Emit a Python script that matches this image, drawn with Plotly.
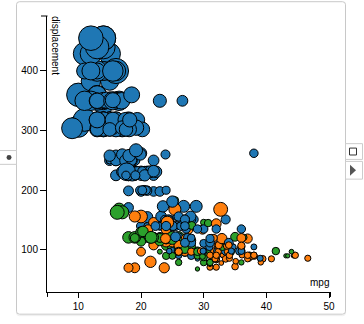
import plotly.graph_objects as go

# auto-mpg cars (rows with missing horsepower omitted), in data order
mpg = [
    18, 15, 18, 16, 17, 15, 14, 14, 14, 15, 15, 14, 15, 14, 24, 22, 18, 21, 27, 26, 25, 24, 25, 26, 21, 10, 10, 11, 9,
    27, 28, 25, 19, 16, 17, 19, 18, 14, 14, 14, 14, 12, 13, 13, 18, 22, 19, 18, 23, 28, 30, 30, 31, 35, 27, 26, 24, 25, 23, 20, 21,
    13, 14, 15, 14, 17, 11, 13, 12, 13, 19, 15, 13, 13, 14, 18, 22, 21, 26, 22, 28, 23, 28, 27,
    13, 14, 13, 14, 15, 12, 13, 13, 14, 13, 12, 13, 18, 16, 18, 18, 23, 26, 11, 12, 13, 12, 18, 20, 21, 22, 18, 19, 21, 26, 15, 16, 29, 24, 20, 19, 15, 24, 20, 11,
    20, 19, 15, 31, 26, 32, 25, 16, 16, 18, 16, 13, 14, 14, 14, 29, 26, 26, 31, 32, 28, 24, 26, 24, 26, 31,
    19, 18, 15, 15, 16, 15, 16, 14, 17, 16, 15, 18, 21, 20, 13, 29, 23, 20, 23, 24, 25, 24, 18, 29, 19, 23, 23, 22, 25, 33,
    28, 25, 25, 26, 27, 17.5, 16, 15.5, 14.5, 22, 22, 24, 22.5, 29, 24.5, 29, 33, 20, 18, 18.5, 17.5, 29.5, 32, 28, 26.5, 20, 13, 19, 19, 16.5, 16.5, 13, 13, 13,
    31.5, 30, 36, 25.5, 33.5, 17.5, 17, 15.5, 15, 17.5, 20.5, 19, 18.5, 16, 15.5, 15.5, 16, 29, 24.5, 26, 25.5, 30.5, 33.5, 30, 30.5, 22, 21.5, 21.5,
    43.1, 36.1, 32.8, 39.4, 36.1, 19.9, 19.4, 20.2, 19.2, 20.5, 20.2, 25.1, 20.5, 19.4, 20.6, 20.8, 18.6, 18.1, 19.2, 17.7, 18.1, 17.5, 30, 27.5, 27.2, 30.9, 21.1, 23.2, 23.8, 23.9, 20.3, 17, 21.6, 16.2, 31.5, 29.5,
    21.5, 19.8, 22.3, 20.2, 20.6, 17, 17.6, 16.5, 18.2, 16.9, 15.5, 19.2, 18.5, 31.9, 34.1, 35.7, 27.4, 25.4, 23, 27.2, 23.9, 34.2, 34.5, 31.8, 37.3, 28.4, 28.8, 26.8, 33.5,
    41.5, 38.1, 32.1, 37.2, 28, 26.4, 24.3, 19.1, 34.3, 29.8, 31.3, 37, 32.2, 46.6, 27.9, 40.8, 44.3, 43.4, 36.4, 30, 44.6, 33.8, 29.8, 32.7, 23.7, 35, 32.4,
    27.2, 26.6, 25.8, 23.5, 30, 39.1, 39, 35.1, 32.3, 37, 37.7, 34.1, 34.7, 34.4, 29.9, 33, 33.7, 32.4, 32.9, 31.6, 28.1, 30.7, 25.4, 24.2, 22.4, 26.6, 20.2, 17.6,
    28, 27, 34, 31, 29, 27, 24, 36, 37, 31, 38, 36, 36, 36, 34, 38, 32, 38, 25, 38, 26, 22, 32, 36, 27, 27, 44, 32, 28, 31,
]
displacement = [
    307, 350, 318, 304, 302, 429, 454, 440, 455, 390, 383, 340, 400, 455, 113, 198, 199, 200, 97, 97, 110, 107, 104, 121, 199, 360, 307, 318, 304,
    97, 140, 113, 232, 225, 250, 250, 232, 350, 400, 351, 318, 383, 400, 400, 258, 140, 250, 250, 122, 116, 79, 88, 71, 72, 97, 91, 113, 97.5, 97, 140, 122,
    350, 400, 318, 351, 304, 429, 350, 350, 400, 70, 304, 307, 302, 318, 121, 121, 120, 96, 122, 97, 120, 98, 97,
    350, 304, 350, 302, 318, 429, 400, 351, 318, 440, 455, 360, 225, 250, 232, 250, 198, 97, 400, 400, 360, 350, 232, 97, 140, 108, 70, 122, 155, 98, 350, 400, 68, 116, 114, 121, 318, 121, 156, 350,
    198, 232, 250, 79, 122, 71, 140, 250, 258, 225, 302, 350, 318, 302, 304, 98, 79, 97, 76, 83, 90, 90, 116, 120, 108, 79,
    225, 250, 250, 250, 400, 350, 318, 351, 231, 250, 258, 225, 231, 262, 302, 97, 140, 232, 140, 134, 90, 119, 171, 90, 232, 115, 120, 121, 121, 91,
    107, 116, 140, 98, 101, 305, 318, 304, 351, 225, 250, 200, 232, 85, 98, 90, 91, 225, 250, 250, 258, 97, 85, 97, 140, 130, 318, 120, 156, 168, 350, 350, 302, 318,
    98, 111, 79, 122, 85, 305, 260, 318, 302, 250, 231, 225, 250, 400, 350, 400, 351, 97, 151, 97, 140, 98, 98, 97, 97, 146, 121, 80,
    90, 98, 78, 85, 91, 260, 318, 302, 231, 200, 200, 140, 225, 232, 231, 200, 225, 258, 305, 231, 302, 318, 98, 134, 119, 105, 134, 156, 151, 119, 131, 163, 121, 163, 89, 98,
    231, 200, 140, 232, 225, 305, 302, 351, 318, 350, 351, 267, 360, 89, 86, 98, 121, 183, 350, 141, 260, 105, 105, 85, 91, 151, 173, 173, 151,
    98, 89, 98, 86, 151, 140, 151, 225, 97, 134, 120, 119, 108, 86, 156, 85, 90, 90, 121, 146, 91, 97, 89, 168, 70, 122, 107,
    135, 151, 156, 173, 135, 79, 86, 81, 97, 85, 89, 91, 105, 98, 98, 105, 107, 108, 119, 120, 141, 145, 168, 146, 231, 350, 200, 225,
    112, 112, 112, 112, 135, 151, 140, 105, 91, 91, 105, 98, 120, 107, 108, 91, 91, 91, 181, 262, 156, 232, 144, 135, 151, 140, 97, 135, 120, 119,
]
horsepower = [
    130, 165, 150, 150, 140, 198, 220, 215, 225, 190, 170, 160, 150, 225, 95, 95, 97, 85, 88, 46, 87, 90, 95, 113, 90, 215, 200, 210, 193,
    88, 90, 95, 100, 105, 100, 88, 100, 165, 175, 153, 150, 180, 170, 175, 110, 72, 100, 88, 86, 90, 70, 76, 65, 69, 60, 70, 95, 80, 54, 90, 86,
    165, 175, 150, 153, 150, 208, 155, 160, 190, 97, 150, 130, 140, 150, 112, 76, 87, 69, 86, 92, 97, 80, 88,
    175, 150, 145, 137, 150, 198, 150, 158, 150, 215, 225, 175, 105, 100, 100, 88, 95, 46, 150, 167, 170, 180, 100, 88, 72, 94, 90, 85, 107, 90, 145, 230, 49, 75, 91, 112, 150, 110, 122, 180,
    95, 100, 100, 67, 80, 65, 75, 100, 110, 105, 140, 150, 150, 140, 150, 83, 67, 78, 52, 61, 75, 75, 75, 97, 93, 67,
    95, 105, 72, 72, 170, 145, 150, 148, 110, 105, 110, 95, 110, 110, 129, 75, 83, 100, 78, 96, 71, 97, 97, 70, 90, 95, 88, 98, 115, 53,
    86, 81, 92, 79, 83, 140, 150, 120, 152, 100, 105, 81, 90, 52, 60, 70, 53, 100, 78, 110, 95, 71, 70, 75, 72, 102, 150, 88, 108, 120, 180, 145, 130, 150,
    68, 80, 58, 96, 70, 145, 110, 145, 130, 110, 105, 100, 98, 180, 170, 190, 149, 78, 88, 75, 89, 63, 83, 67, 78, 97, 110, 110,
    48, 66, 52, 70, 60, 110, 140, 139, 105, 95, 85, 88, 100, 90, 105, 85, 110, 120, 145, 165, 139, 140, 68, 95, 97, 75, 95, 105, 85, 97, 103, 125, 115, 133, 71, 68,
    115, 85, 88, 90, 110, 130, 129, 138, 135, 155, 142, 125, 150, 71, 65, 80, 80, 77, 125, 71, 90, 70, 70, 65, 69, 90, 115, 115, 90,
    76, 60, 70, 65, 90, 88, 90, 90, 78, 90, 75, 92, 75, 65, 105, 65, 48, 48, 67, 67, 67, 67, 62, 132, 100, 88, 72,
    84, 84, 92, 110, 84, 58, 64, 60, 67, 65, 62, 68, 63, 65, 65, 74, 75, 75, 100, 74, 80, 76, 116, 120, 110, 105, 88, 85,
    88, 88, 88, 85, 84, 90, 92, 74, 68, 68, 63, 70, 88, 75, 70, 67, 67, 67, 110, 85, 92, 112, 96, 84, 90, 86, 52, 84, 79, 82,
]
origin = [
    "USA", "USA", "USA", "USA", "USA", "USA", "USA", "USA", "USA", "USA", "USA", "USA", "USA", "USA", "Japan", "USA", "USA", "USA", "Japan", "Europe", "Europe", "Europe", "Europe", "Europe", "USA", "USA", "USA", "USA", "USA",
    "Japan", "USA", "Japan", "USA", "USA", "USA", "USA", "USA", "USA", "USA", "USA", "USA", "USA", "USA", "USA", "USA", "USA", "USA", "USA", "USA", "Europe", "Europe", "Europe", "Japan", "Japan", "Europe", "USA", "Japan", "USA", "Europe", "USA", "USA",
    "USA", "USA", "USA", "USA", "USA", "USA", "USA", "USA", "USA", "Japan", "USA", "USA", "USA", "USA", "Europe", "Europe", "Europe", "Europe", "USA", "Japan", "Japan", "USA", "Japan",
    "USA", "USA", "USA", "USA", "USA", "USA", "USA", "USA", "USA", "USA", "USA", "USA", "USA", "USA", "USA", "USA", "USA", "Europe", "USA", "USA", "USA", "USA", "USA", "Japan", "USA", "Japan", "Japan", "USA", "USA", "Europe", "USA", "USA", "Europe", "Europe", "Europe", "Europe", "USA", "Europe", "Japan", "USA",
    "USA", "USA", "USA", "Japan", "USA", "Japan", "USA", "USA", "USA", "USA", "USA", "USA", "USA", "USA", "USA", "Europe", "Europe", "Europe", "Japan", "Japan", "USA", "Europe", "Europe", "Japan", "Japan", "Europe",
    "USA", "USA", "USA", "USA", "USA", "USA", "USA", "USA", "USA", "USA", "USA", "USA", "USA", "USA", "USA", "Japan", "USA", "USA", "USA", "Japan", "Europe", "Japan", "USA", "Europe", "USA", "Europe", "Europe", "Europe", "Europe", "Japan",
    "Europe", "Europe", "USA", "USA", "Europe", "USA", "USA", "USA", "USA", "USA", "USA", "USA", "USA", "USA", "USA", "Europe", "Japan", "USA", "USA", "USA", "USA", "Europe", "Japan", "Japan", "USA", "Europe", "USA", "Europe", "Japan", "Europe", "USA", "USA", "USA", "USA",
    "Japan", "USA", "Europe", "USA", "Japan", "USA", "USA", "USA", "USA", "USA", "USA", "USA", "USA", "USA", "USA", "USA", "USA", "Europe", "USA", "Japan", "USA", "USA", "USA", "Japan", "Europe", "Japan", "Europe", "Japan",
    "Europe", "USA", "Japan", "Japan", "Japan", "USA", "USA", "USA", "USA", "USA", "USA", "USA", "USA", "USA", "USA", "USA", "USA", "USA", "USA", "USA", "USA", "USA", "USA", "Japan", "Japan", "USA", "Japan", "USA", "USA", "Japan", "Europe", "Europe", "Europe", "Europe", "Europe", "Japan",
    "USA", "USA", "USA", "USA", "USA", "USA", "USA", "USA", "USA", "USA", "USA", "USA", "USA", "Europe", "Japan", "USA", "USA", "Europe", "USA", "Europe", "USA", "USA", "USA", "Japan", "Europe", "USA", "USA", "USA", "USA",
    "Europe", "Japan", "USA", "Japan", "USA", "USA", "USA", "USA", "Europe", "Japan", "Japan", "Japan", "Japan", "Japan", "USA", "Japan", "Europe", "Europe", "Europe", "Europe", "Japan", "Japan", "Europe", "Japan", "Japan", "Europe", "Japan",
    "USA", "USA", "USA", "USA", "USA", "Japan", "USA", "Japan", "Japan", "Japan", "Japan", "Japan", "USA", "USA", "USA", "Europe", "Japan", "Japan", "Japan", "Japan", "Europe", "Europe", "Japan", "Japan", "USA", "USA", "USA", "USA",
    "USA", "USA", "USA", "USA", "USA", "USA", "USA", "Europe", "Japan", "Japan", "USA", "USA", "Japan", "Japan", "Japan", "Japan", "Japan", "Japan", "USA", "USA", "USA", "USA", "Japan", "USA", "USA", "USA", "Europe", "USA", "USA", "USA",
]
x_ticks = [10, 20, 30, 40, 50]
y_ticks = [100, 200, 300, 400]

assert len(mpg) == len(displacement) == len(horsepower) == len(origin), (len(mpg), len(displacement), len(horsepower), len(origin))

palette = {"USA": "#1f77b4", "Japan": "#ff7f0e", "Europe": "#2ca02c"}
colors = [palette[o] for o in origin]
sizes = [4 + (h - 46) * 0.115 for h in horsepower]

W, H = 364, 324
ML, MR, MT, MB = 47, 33, 16, 28
PW, PH = W - ML - MR, H - MT - MB


def X(px):
    return (px - ML) / PW


def Y(py):
    return (H - MB - py) / PH


FONT = "Liberation Sans, Arial, sans-serif"
FS = 10

fig = go.Figure(
    go.Scatter(
        x=mpg, y=displacement, mode="markers",
        marker=dict(size=sizes, color=colors, opacity=1, line=dict(color="black", width=1)),
        hoverinfo="skip", showlegend=False,
    )
)

axis_common = dict(
    showgrid=False, zeroline=False, showline=True, linecolor="black", linewidth=1,
    ticks="outside", tickcolor="black", tickwidth=1,
    tickfont=dict(family=FONT, size=FS, color="black"), fixedrange=True,
)
fig.update_xaxes(range=[5.0, 50.3], tickvals=x_ticks, ticklen=5, **axis_common)
fig.update_yaxes(range=[29.4, 492.2], tickvals=y_ticks, ticklen=6, **axis_common)


def rpath(x0, y0, x1, y1, r):
    pts = [
        (x0 + r, y0), (x1 - r, y0), ("Q", x1, y0, x1, y0 + r), (x1, y1 - r), ("Q", x1, y1, x1 - r, y1),
        (x0 + r, y1), ("Q", x0, y1, x0, y1 - r), (x0, y0 + r), ("Q", x0, y0, x0 + r, y0),
    ]
    s = "M {:.5f},{:.5f}".format(X(pts[0][0]), Y(pts[0][1]))
    for p in pts[1:]:
        if p[0] == "Q":
            s += " Q {:.5f},{:.5f} {:.5f},{:.5f}".format(X(p[1]), Y(p[2]), X(p[3]), Y(p[4]))
        else:
            s += " L {:.5f},{:.5f}".format(X(p[0]), Y(p[1]))
    return s + " Z"


shapes = []
# frame with faint shadow
shapes.append(dict(type="path", xref="paper", yref="paper", path=rpath(16.5, 2.5, 345.5, 320, 3),
                   line=dict(color="#eeeeee", width=1), fillcolor="rgba(0,0,0,0)", layer="below"))
shapes.append(dict(type="path", xref="paper", yref="paper", path=rpath(16.5, 1.5, 345.5, 318.5, 3),
                   line=dict(color="#c8c8c8", width=1), fillcolor="white", layer="below"))
# left button
shapes.append(dict(type="rect", xref="paper", yref="paper", x0=X(-1), x1=X(16.5), y0=Y(152.5), y1=Y(166.5),
                   line=dict(color="#cccccc", width=1), fillcolor="white"))
shapes.append(dict(type="circle", xref="paper", yref="paper", x0=X(6.5), x1=X(11.5), y0=Y(157), y1=Y(162),
                   line=dict(color="#444", width=0), fillcolor="#444"))
# right buttons
shapes.append(dict(type="rect", xref="paper", yref="paper", x0=X(345.5), x1=X(362.5), y0=Y(145.5), y1=Y(161.5),
                   line=dict(color="#cccccc", width=1), fillcolor="white"))
shapes.append(dict(type="rect", xref="paper", yref="paper", x0=X(349.5), x1=X(356.5), y0=Y(150), y1=Y(157),
                   line=dict(color="#333", width=1), fillcolor="white"))
shapes.append(dict(type="rect", xref="paper", yref="paper", x0=X(345.5), x1=X(362.5), y0=Y(163.5), y1=Y(181.5),
                   line=dict(color="#cccccc", width=1), fillcolor="white"))
shapes.append(dict(type="path", xref="paper", yref="paper",
                   path="M {:.5f},{:.5f} L {:.5f},{:.5f} L {:.5f},{:.5f} Z".format(X(350), Y(167), X(350), Y(178), X(356), Y(172.5)),
                   line=dict(color="#555", width=0), fillcolor="#555"))
# outer end ticks of the axes
shapes.append(dict(type="line", xref="paper", yref="paper", x0=X(47.5), x1=X(47.5), y0=Y(296), y1=Y(301), line=dict(color="black", width=1)))
shapes.append(dict(type="line", xref="paper", yref="paper", x0=X(330.5), x1=X(330.5), y0=Y(296), y1=Y(301), line=dict(color="black", width=1)))
shapes.append(dict(type="line", xref="paper", yref="paper", x0=X(41), x1=X(47.5), y0=Y(16), y1=Y(16), line=dict(color="black", width=1)))

annotations = [
    dict(text="mpg", xref="paper", yref="paper", x=X(331), y=Y(286.5), xanchor="right", yanchor="middle",
         showarrow=False, font=dict(family=FONT, size=FS, color="black")),
    dict(text="displacement", xref="paper", yref="paper", x=X(55.5), y=Y(14), xanchor="center", yanchor="top",
         textangle=90, showarrow=False, font=dict(family=FONT, size=FS, color="black")),
]

fig.update_layout(
    width=W, height=H, margin=dict(l=ML, r=MR, t=MT, b=MB, pad=0),
    paper_bgcolor="white", plot_bgcolor="rgba(0,0,0,0)",
    shapes=shapes, annotations=annotations, showlegend=False,
)

fig.write_html("out.html", config={"displayModeBar": False})
